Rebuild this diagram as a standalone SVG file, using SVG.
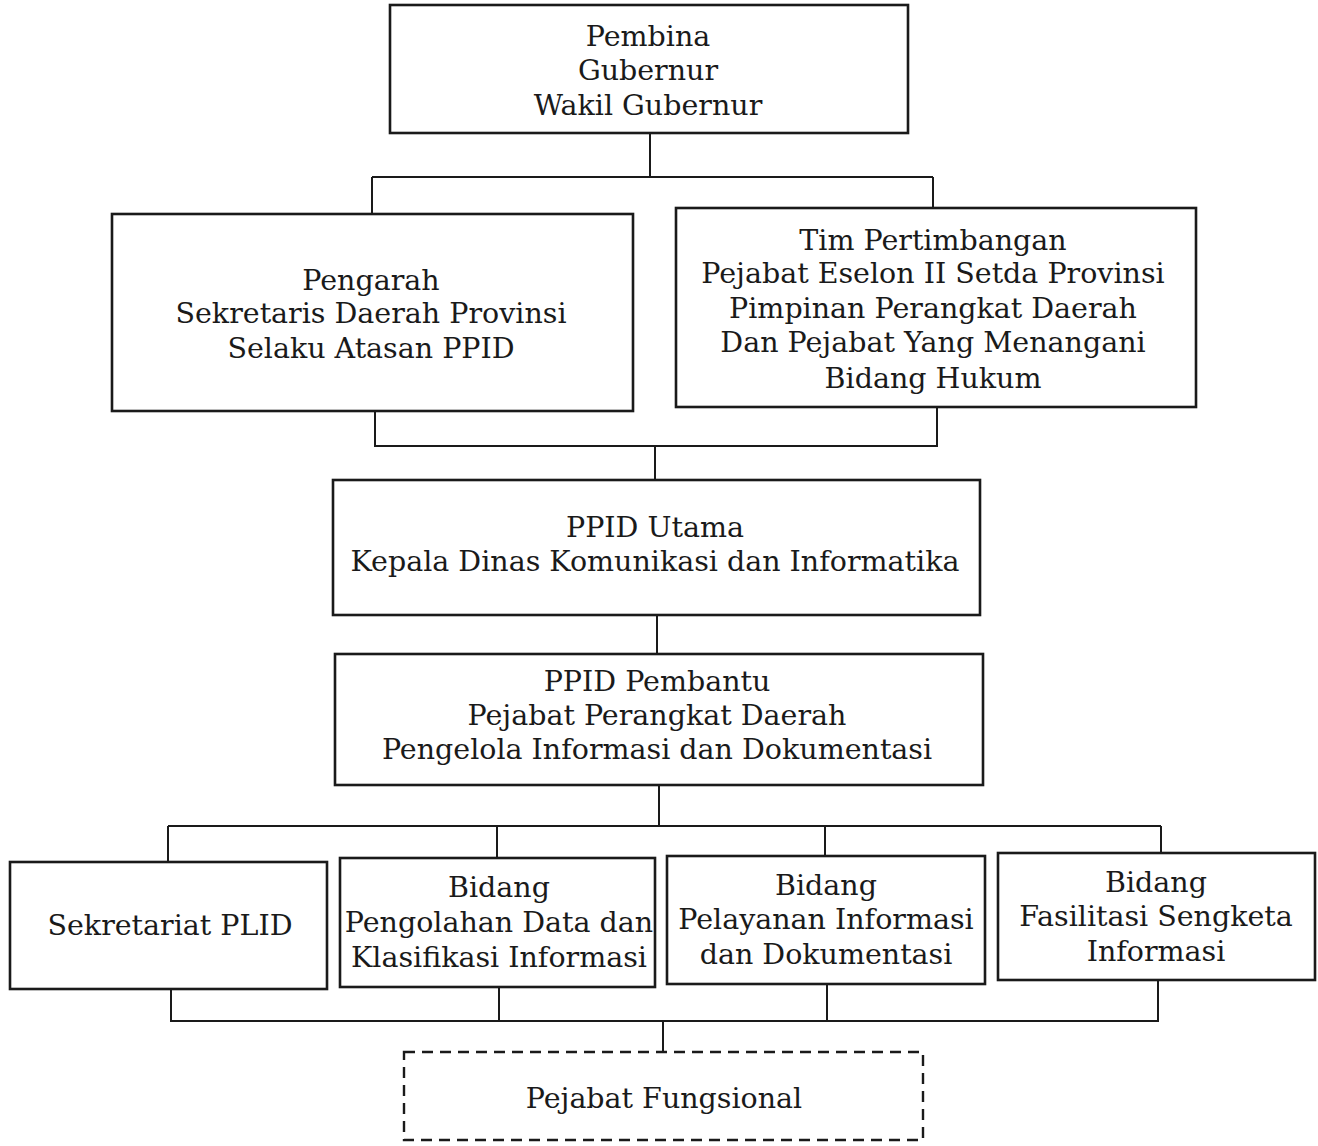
<svg xmlns="http://www.w3.org/2000/svg" width="1318" height="1146" viewBox="0 0 1318 1146">
<style>
.box{fill:#fff;stroke:#1a1a1a;stroke-width:2.6}
.dash{fill:#fff;stroke:#1a1a1a;stroke-width:2.4;stroke-dasharray:11 7}
.ln{fill:none;stroke:#1a1a1a;stroke-width:2}
text{font-family:"DejaVu Serif","Liberation Serif",serif;font-size:28.5px;fill:#1a1a1a;text-anchor:middle;dominant-baseline:central}
</style>
<rect width="1318" height="1146" fill="#fff"/>
<g id="connectors">
<path class="ln" d="M650 133V177M372 177H933M372 177V214M933 177V208"/>
<path class="ln" d="M375 411V446H937V407M655 446V480"/>
<path class="ln" d="M657 615V654"/>
<path class="ln" d="M659 785V826M168 826H1161M168 826V862M497 826V858M825 826V856M1161 826V853"/>
<path class="ln" d="M171 989V1021H1158V980M499 987V1021M827 984V1021M663 1021V1052"/>
</g>
<g id="pembina">
<rect class="box" x="390" y="5" width="518" height="128"/>
<text x="648" y="36">Pembina</text>
<text x="648" y="70">Gubernur</text>
<text x="648" y="105">Wakil Gubernur</text>
</g>
<g id="pengarah">
<rect class="box" x="112" y="214" width="521" height="197"/>
<text x="371" y="280">Pengarah</text>
<text x="371" y="313">Sekretaris Daerah Provinsi</text>
<text x="371" y="348">Selaku Atasan PPID</text>
</g>
<g id="tim">
<rect class="box" x="676" y="208" width="520" height="199"/>
<text x="933" y="240">Tim Pertimbangan</text>
<text x="933" y="273">Pejabat Eselon II Setda Provinsi</text>
<text x="933" y="308">Pimpinan Perangkat Daerah</text>
<text x="933" y="342">Dan Pejabat Yang Menangani</text>
<text x="933" y="378">Bidang Hukum</text>
</g>
<g id="ppid-utama">
<rect class="box" x="333" y="480" width="647" height="135"/>
<text x="655" y="527">PPID Utama</text>
<text x="655" y="561">Kepala Dinas Komunikasi dan Informatika</text>
</g>
<g id="ppid-pembantu">
<rect class="box" x="335" y="654" width="648" height="131"/>
<text x="657" y="681">PPID Pembantu</text>
<text x="657" y="715">Pejabat Perangkat Daerah</text>
<text x="657" y="749">Pengelola Informasi dan Dokumentasi</text>
</g>
<g id="sekretariat">
<rect class="box" x="10" y="862" width="317" height="127"/>
<text x="170" y="925">Sekretariat PLID</text>
</g>
<g id="bidang-pengolahan">
<rect class="box" x="340" y="858" width="315" height="129"/>
<text x="499" y="887">Bidang</text>
<text x="499" y="922">Pengolahan Data dan</text>
<text x="499" y="957">Klasifikasi Informasi</text>
</g>
<g id="bidang-pelayanan">
<rect class="box" x="667" y="856" width="318" height="128"/>
<text x="826" y="885">Bidang</text>
<text x="826" y="919">Pelayanan Informasi</text>
<text x="826" y="954">dan Dokumentasi</text>
</g>
<g id="bidang-fasilitasi">
<rect class="box" x="998" y="853" width="317" height="127"/>
<text x="1156" y="882">Bidang</text>
<text x="1156" y="916">Fasilitasi Sengketa</text>
<text x="1156" y="951">Informasi</text>
</g>
<g id="pejabat-fungsional">
<rect class="dash" x="404" y="1052" width="519" height="88"/>
<text x="664" y="1098">Pejabat Fungsional</text>
</g>
</svg>
